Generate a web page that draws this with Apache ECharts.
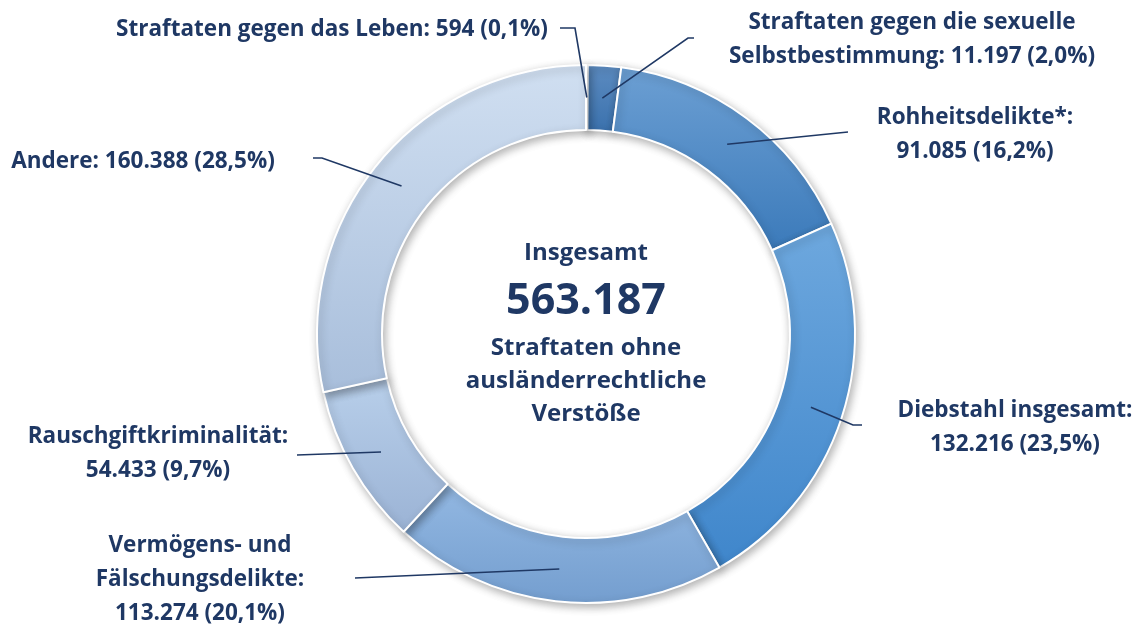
<!DOCTYPE html>
<html>
<head>
<meta charset="utf-8">
<script src="https://cdn.jsdelivr.net/npm/echarts@6/dist/echarts.min.js"></script>
<style>
html,body{margin:0;padding:0;background:#fff;}
#chart{width:1137px;height:626px;}
</style>
</head>
<body>
<div id="chart"></div>
<script>
// ---- data ----
const categories = [
  "Straftaten gegen das Leben",
  "Straftaten gegen die sexuelle\nSelbstbestimmung",
  "Rohheitsdelikte*",
  "Diebstahl insgesamt",
  "Vermögens- und\nFälschungsdelikte",
  "Rauschgiftkriminalität",
  "Andere"
];
const values = [594, 11197, 91085, 132216, 113274, 54433, 160388];
const centerTitle = "Insgesamt";
const centerSubtitle = "Straftaten ohne\nausländerrechtliche\nVerstöße";

// ---- styles / layout ----
const CX = 586, CY = 334, R_IN = 204, R_OUT = 269;
const navy = "#1f3864";
const FONT = "'Open Sans'";
const gradients = [
  ["#3f76b0", "#2f66a3"],
  ["#5d8cc1", "#3a71ad"],
  ["#6c9fd3", "#3b7aba"],
  ["#6ea8de", "#3f86cb"],
  ["#93b8e2", "#749ecf"],
  ["#b8cfea", "#9bb3d5"],
  ["#d0dff1", "#a8bedb"]
];
const labelSep = [" ", " ", "\n", "\n", "\n", "\n", " "];
const labelLayouts = [
  {x: 332, y: 30,  pts: [[575, 28], [560, 28]]},
  {x: 912, y: 40,  pts: [[688, 38], [694, 38]]},
  {x: 975, y: 135, pts: [[848, 132], [848, 132]]},
  {x: 1015, y: 428, pts: [[853, 425], [862, 425]]},
  {x: 200, y: 580, pts: [[355, 578], [355, 578]]},
  {x: 158, y: 454, pts: [[297, 455], [297, 455]]},
  {x: 143, y: 162, pts: [[322, 158], [313, 158]]}
];

function fmtInt(n) {
  return String(n).replace(/\B(?=(\d{3})+(?!\d))/g, ".");
}
const total = values.reduce((a, b) => a + b, 0);
const cum = [];
values.reduce((acc, v, i) => { cum[i] = acc; return acc + v; }, 0);

const ringData = categories.map((name, i) => ({
  name: name,
  value: values[i],
  itemStyle: {
    color: {
      type: "linear", x: 0, y: 0, x2: 0, y2: 1,
      colorStops: [
        {offset: 0, color: gradients[i][0]},
        {offset: 1, color: gradients[i][1]}
      ]
    }
  }
}));
const labelData = categories.map((name, i) => ({name: name, value: values[i]}));

const common = {
  type: "pie",
  center: [CX, CY],
  radius: [R_IN, R_OUT],
  startAngle: 90,
  clockwise: true,
  avoidLabelOverlap: false,
  silent: true
};

const chart = echarts.init(document.getElementById("chart"), null, {renderer: "canvas"});
chart.setOption({
  animation: false,
  backgroundColor: "#ffffff",
  series: [
    Object.assign({}, common, {
      z: 1,
      itemStyle: {
        borderColor: "#ffffff",
        borderWidth: 2,
        shadowBlur: 9,
        shadowOffsetX: 2,
        shadowOffsetY: 3,
        shadowColor: "rgba(0,0,0,0.3)"
      },
      label: {show: false},
      labelLine: {show: false},
      data: ringData
    }),
    Object.assign({}, common, {
      z: 5,
      itemStyle: {color: "rgba(0,0,0,0)", borderWidth: 0},
      label: {
        show: true,
        position: "outside",
        color: navy,
        fontFamily: FONT,
        fontWeight: "bold",
        fontSize: 22.5,
        lineHeight: 34,
        align: "center",
        formatter: function (p) {
          const pct = (p.value / total * 100).toFixed(1).replace(".", ",");
          return p.name + ":" + labelSep[p.dataIndex] + fmtInt(p.value) + " (" + pct + "%)";
        }
      },
      labelLine: {
        show: true,
        lineStyle: {color: navy, width: 1.6}
      },
      labelLayout: function (params) {
        const i = params.dataIndex;
        const L = labelLayouts[i];
        const mid = (cum[i] + values[i] / 2) / total * 2 * Math.PI;
        const rm = (R_IN + R_OUT) / 2;
        const start = [CX + rm * Math.sin(mid), CY - rm * Math.cos(mid)];
        return {
          x: L.x, y: L.y,
          align: "center",
          verticalAlign: "middle",
          labelLinePoints: [start, L.pts[0], L.pts[1]]
        };
      },
      data: labelData
    })
  ],
  graphic: [
    {type: "text", silent: true, z: 10,
     x: CX, y: 253, style: {text: centerTitle, fill: navy, font: "bold 24px " + FONT, textAlign: "center", textVerticalAlign: "middle"}},
    {type: "text", silent: true, z: 10,
     x: CX, y: 302, style: {text: fmtInt(total), fill: navy, font: "bold 43px " + FONT, textAlign: "center", textVerticalAlign: "middle"}},
    {type: "text", silent: true, z: 10,
     x: CX, y: 381, style: {text: centerSubtitle, fill: navy, font: "bold 24px " + FONT, lineHeight: 33, textAlign: "center", textVerticalAlign: "middle"}}
  ]
});
</script>
</body>
</html>
